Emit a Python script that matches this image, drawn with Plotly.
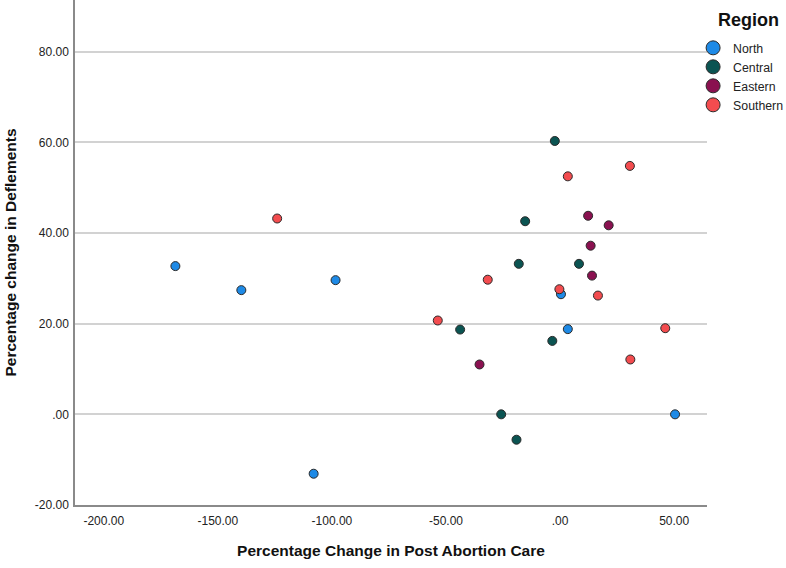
import plotly.graph_objects as go

regions = ["North", "Central", "Eastern", "Southern"]
colors = {"North": "#1e8ae6", "Central": "#0b5452", "Eastern": "#8a1150", "Southern": "#f34c4f"}

north_x = [-168.6, -139.7, -98.4, -108.0, 0.4, 3.4, 50.4]
north_y = [32.7, 27.4, 29.6, -13.1, 26.5, 18.8, 0.0]
central_x = [-2.3, -15.3, -18.1, 8.3, -43.8, -3.4, -25.8, -19.1]
central_y = [60.3, 42.6, 33.2, 33.2, 18.7, 16.2, 0.0, -5.6]
eastern_x = [12.3, 21.3, 13.4, 14.0, -35.3]
eastern_y = [43.8, 41.7, 37.2, 30.6, 11.0]
southern_x = [-124.0, 30.6, 3.4, -31.7, -0.3, 16.6, -53.6, 46.1, 30.8]
southern_y = [43.2, 54.8, 52.5, 29.7, 27.6, 26.2, 20.7, 19.0, 12.1]

xticks = [-200, -150, -100, -50, 0, 50]
xticklabels = ["-200.00", "-150.00", "-100.00", "-50.00", ".00", "50.00"]
yticks = [-20, 0, 20, 40, 60, 80]
yticklabels = ["-20.00", ".00", "20.00", "40.00", "60.00", "80.00"]

data = {
    "North": (north_x, north_y),
    "Central": (central_x, central_y),
    "Eastern": (eastern_x, eastern_y),
    "Southern": (southern_x, southern_y),
}

fig = go.Figure()
for r in regions:
    xs, ys = data[r]
    fig.add_trace(go.Scatter(
        x=xs, y=ys, mode="markers", name=r, showlegend=False,
        marker=dict(size=9, color=colors[r], line=dict(color="#2a2a2a", width=1)),
        cliponaxis=False,
    ))
for r in regions:
    fig.add_trace(go.Scatter(
        x=[None], y=[None], mode="markers", name=r, showlegend=True,
        marker=dict(size=14, color=colors[r], line=dict(color="#2a2a2a", width=1)),
    ))

fig.add_annotation(
    text="<b>Region</b>", xref="paper", yref="paper",
    x=1.066, y=1.0, xanchor="center", yanchor="top", yshift=-8,
    showarrow=False, font=dict(size=18, color="#111111"),
)

fig.update_layout(
    width=786, height=568,
    margin=dict(l=74.5, r=79, t=0, b=63.4, autoexpand=False),
    paper_bgcolor="white", plot_bgcolor="white",
    font=dict(family="Liberation Sans, Arial, sans-serif", color="#222222", size=12),
    legend=dict(
        x=0.978, xanchor="left", y=0.934, yanchor="top",
        font=dict(size=12.3, color="#222222"),
        itemsizing="trace", tracegroupgap=0,
        bgcolor="rgba(0,0,0,0)",
    ),
    xaxis=dict(
        range=[-212.6, 64.4], tickvals=xticks, ticktext=xticklabels,
        showgrid=False, zeroline=False,
        showline=True, linecolor="#8a8a8a", linewidth=1.5,
        ticks="", tickfont=dict(size=12, color="#222222"), ticklabelstandoff=4,
        title=dict(text="<b>Percentage Change in Post Abortion Care</b>",
                   font=dict(size=15.5, color="#111111"), standoff=18),
    ),
    yaxis=dict(
        range=[-20, 91.4], tickvals=yticks, ticktext=yticklabels,
        showgrid=True, gridcolor="#d2d2d2", gridwidth=1.5, zeroline=False,
        showline=True, linecolor="#8a8a8a", linewidth=1.5,
        ticks="", tickfont=dict(size=12, color="#222222"), ticklabelstandoff=2,
        title=dict(text="<b>Percentage change in Deflements</b>",
                   font=dict(size=15.5, color="#111111"), standoff=14),
    ),
)

fig.write_html("out.html")
